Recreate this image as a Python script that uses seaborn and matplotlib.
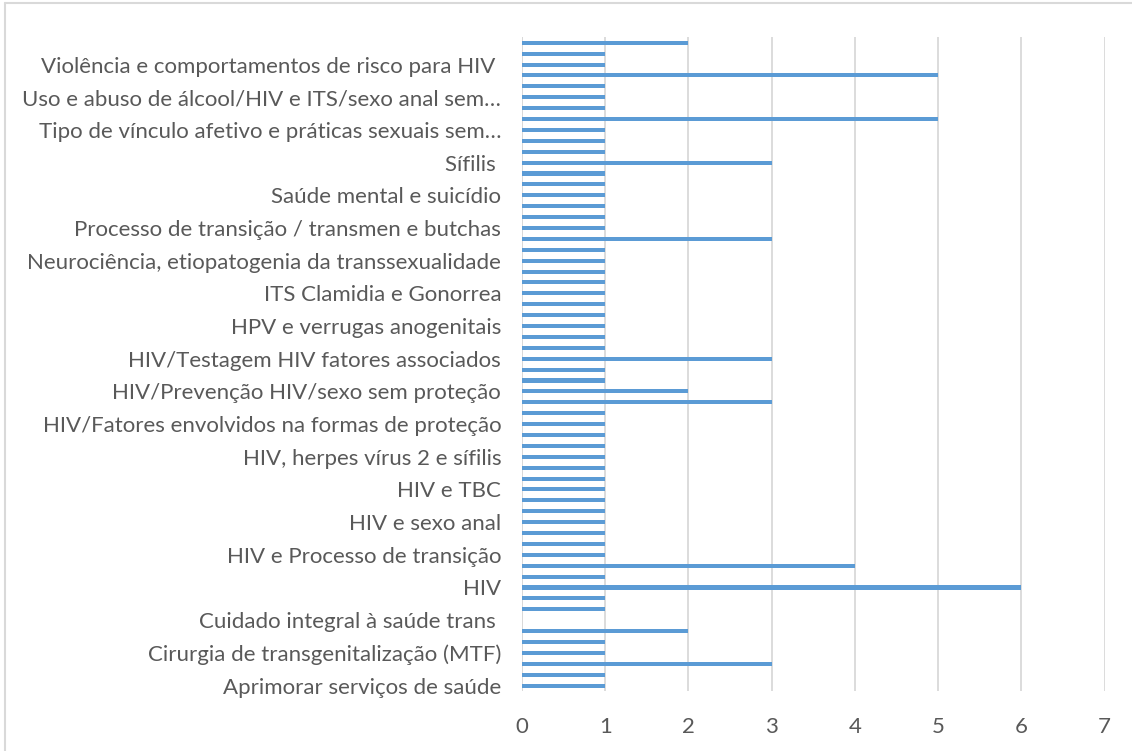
import matplotlib
matplotlib.use("Agg")
import matplotlib.pyplot as plt
import seaborn as sns
import pandas as pd
from matplotlib.lines import Line2D

# labels shown on the axis (every third category), top to bottom
labels = [
    "Violência e comportamentos de risco para HIV ",
    "Uso e abuso de álcool/HIV e ITS/sexo anal sem…",
    "Tipo de vínculo afetivo e práticas sexuais sem…",
    "Sífilis ",
    "Saúde mental e suicídio",
    "Processo de transição / transmen e butchas",
    "Neurociência, etiopatogenia da transsexualidade",
    "ITS Clamidia e Gonorrea",
    "HPV e verrugas anogenitais",
    "HIV/Testagem HIV fatores associados",
    "HIV/Prevenção HIV/sexo sem proteção",
    "HIV/Fatores envolvidos na formas de proteção",
    "HIV, herpes vírus 2 e sífilis",
    "HIV e TBC",
    "HIV e sexo anal",
    "HIV e Processo de transição",
    "HIV",
    "Cuidado integral à saúde trans ",
    "Cirurgia de transgenitalização (MTF)",
    "Aprimorar serviços de saúde",
]

# counts for all 60 categories, top to bottom
values = [
    2, 1, 1, 5, 1, 1, 1, 5, 1, 1,
    1, 3, 1, 1, 1, 1, 1, 1, 3, 1,
    1, 1, 1, 1, 1, 1, 1, 1, 1, 3,
    1, 1, 2, 3, 1, 1, 1, 1, 1, 1,
    1, 1, 1, 1, 1, 1, 1, 1, 4, 1,
    6, 1, 1, 0, 2, 1, 1, 3, 1, 1,
]

xticks = [0, 1, 2, 3, 4, 5, 6, 7]

# every third category carries a visible label; the others get hidden ids
categories = []
for i in range(len(values)):
    if i % 3 == 2:
        categories.append(labels[i // 3])
    else:
        categories.append(f"_cat{i}")
df = pd.DataFrame({"topic": categories, "count": values})

sns.set_style("white")
plt.rcParams["font.family"] = ["Lato", "DejaVu Sans"]

fig = plt.figure(figsize=(11.32, 7.51), dpi=100)
ax = fig.add_axes([0.4611, 0.0799, 0.5148, 0.8704])

sns.barplot(
    data=df,
    x="count",
    y="topic",
    orient="h",
    color="#5B9BD5",
    saturation=1,
    width=0.37,
    linewidth=0,
    order=categories,
    ax=ax,
)

ax.set_xlim(0, 7)
ax.set_ylim(len(values) - 0.5, -0.5)
ax.set_xticks(xticks)
ax.set_xticklabels([str(t) for t in xticks])
label_pos = [i for i in range(len(values)) if i % 3 == 2]
ax.set_yticks(label_pos)
ax.set_yticklabels(labels)

ax.xaxis.grid(True, color="#D9D9D9", linewidth=1.3)
ax.yaxis.grid(False)
ax.set_axisbelow(True)
for side in ["top", "right", "bottom", "left"]:
    ax.spines[side].set_visible(False)
ax.axvline(0, color="#D9D9D9", linewidth=1.3, zorder=0.5)

ax.tick_params(axis="y", length=0, pad=15, labelsize=16, labelcolor="#595959")
ax.tick_params(axis="x", length=0, pad=19, labelsize=16, labelcolor="#595959")
ax.set_xlabel("")
ax.set_ylabel("")

# chart area border (top and left edges visible)
fig.add_artist(Line2D([5 / 1132, 1], [1 - 3 / 751, 1 - 3 / 751],
                      transform=fig.transFigure, color="#D9D9D9", linewidth=1.5))
fig.add_artist(Line2D([5 / 1132, 5 / 1132], [0, 1 - 3 / 751],
                      transform=fig.transFigure, color="#D9D9D9", linewidth=1.5))

fig.savefig("out.png", dpi=100)
